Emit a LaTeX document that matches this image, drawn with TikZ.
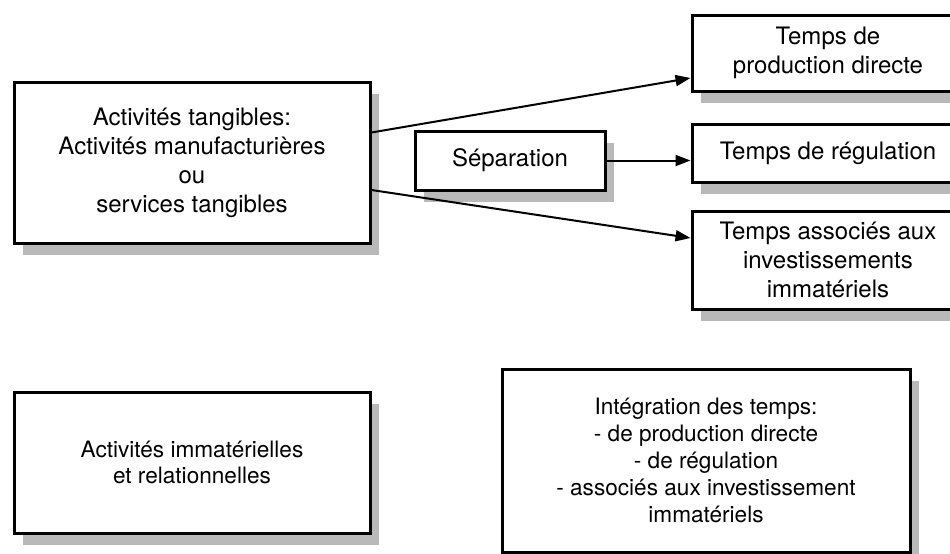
\documentclass[tikz,border=0pt]{standalone}
\usepackage{fontspec}
\setsansfont{TeX Gyre Heros}
\usepackage{tikz}
\usetikzlibrary{arrows.meta, positioning, shadows, calc}
\tikzset{
  actbox/.style={rectangle, draw=black, line width=1.5pt, fill=white, align=center, font=\sffamily\fontsize{12}{14.5}\selectfont, drop shadow={shadow xshift=4.5pt, shadow yshift=-6pt, opacity=1, fill=gray!55}},
  lowbox/.style={actbox, font=\sffamily\fontsize{11.3}{13.4}\selectfont},
  tempsbox/.style={actbox, minimum width=136pt},
  arrow/.style={-{Triangle[length=7.5pt,width=5.5pt]}, line width=1pt, black}
}

\begin{document}
\begin{tikzpicture}[x=0.5pt, y=-0.5pt]
  \useasboundingbox (0,0) rectangle (950,553);

  % partie haute
  \node[actbox, minimum width=178pt, minimum height=80.5pt] (tang) at (192,162.5) {Activités tangibles:\\Activités manufacturières\\ou\\services tangibles};
  \node[actbox, minimum width=95pt, minimum height=29.5pt] (sep) at (510,160.5) {Séparation};
  \node[tempsbox, minimum height=38pt] (prod) at (828,53) {Temps de\\production directe};
  \node[tempsbox, minimum height=29pt] (regul) at (828,153) {Temps de régulation};
  \node[tempsbox, minimum height=49pt] (invest) at (828,260) {Temps associés aux\\investissements\\immatériels};

  \draw[arrow] ([yshift=15pt]tang.east) -- ([yshift=-12.5pt]prod.west);
  \draw[arrow] (sep.east) -- (sep.east -| regul.west);
  \draw[arrow] ([yshift=-13.75pt]tang.east) -- ([yshift=11pt]invest.west);

  % partie basse
  \node[lowbox, minimum width=178pt, minimum height=70.5pt] (immat) at (192,462.5) {Activités immatérielles\\et relationnelles};
  \node[lowbox, minimum width=204pt, minimum height=91.5pt] (integ) at (706,460.5) {Intégration des temps:\\- de production directe\\- de régulation\\- associés aux investissement\\immatériels};
\end{tikzpicture}
\end{document}
